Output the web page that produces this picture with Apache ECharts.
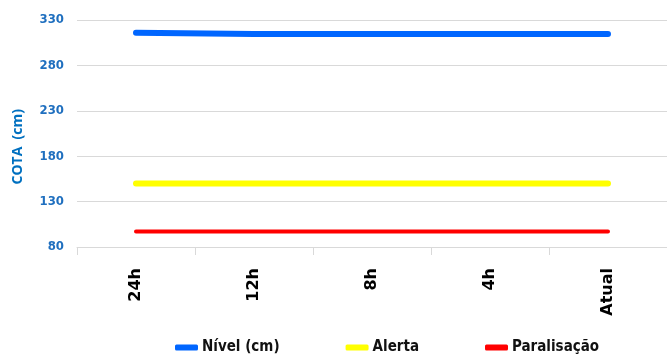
<!DOCTYPE html>
<html>
<head>
<meta charset="utf-8">
<script src="https://cdn.jsdelivr.net/npm/echarts@6/dist/echarts.min.js"></script>
<style>
html,body{margin:0;padding:0;background:#fff;}
#chart{width:667px;height:356px;}
</style>
</head>
<body>
<div id="chart"></div>
<script>
var categories = ['24h', '12h', '8h', '4h', 'Atual'];
var nivel = [316, 314.6, 314.6, 314.6, 314.6];
var alerta = [150, 150, 150, 150, 150];
var paralisacao = [97, 97, 97, 97, 97];
var yTicks = [80, 130, 180, 230, 280, 330];
var seriesNames = ['Nível (cm)', 'Alerta', 'Paralisação'];
var yTitle = 'COTA  (cm)';

var chart = echarts.init(document.getElementById('chart'), null, {renderer: 'canvas'});
var axisBlue = '#1F6FBF';
var narrow = '"DejaVu Sans Condensed", "Liberation Sans Narrow", sans-serif';
chart.setOption({
  animation: false,
  grid: {left: 77, right: 0, top: 20, bottom: 109, containLabel: false},
  graphic: [{
    type: 'text',
    left: 11,
    top: 109,
    rotation: Math.PI / 2,
    style: {
      text: yTitle,
      fill: '#0070C0',
      font: 'bold 14px "Open Sans", sans-serif'
    }
  }],
  legend: {
    top: 340,
    left: 175,
    itemGap: 66,
    itemWidth: 23,
    itemHeight: 6,
    padding: 0,
    data: [
      {name: seriesNames[0], icon: 'roundRect'},
      {name: seriesNames[1], icon: 'roundRect'},
      {name: seriesNames[2], icon: 'roundRect'}
    ],
    textStyle: {
      fontFamily: narrow,
      fontWeight: 'bold',
      fontSize: 15,
      color: '#111',
      padding: [0, 0, 0, -1]
    }
  },
  xAxis: {
    type: 'category',
    data: categories,
    boundaryGap: true,
    axisLine: {show: true, lineStyle: {color: '#D9D9D9', width: 1}},
    axisTick: {show: true, length: 8, lineStyle: {color: '#D9D9D9'}},
    axisLabel: {
      rotate: 90,
      margin: 21,
      color: '#000',
      fontFamily: '"DejaVu Sans", sans-serif',
      fontWeight: 'bold',
      fontSize: 16
    },
    splitLine: {show: false}
  },
  yAxis: {
    type: 'value',
    min: yTicks[0],
    max: yTicks[yTicks.length - 1],
    interval: yTicks[1] - yTicks[0],
    axisLine: {show: false},
    axisTick: {show: false},
    axisLabel: {
      margin: 13,
      color: axisBlue,
      fontFamily: narrow,
      fontWeight: 'bold',
      fontSize: 13
    },
    splitLine: {show: true, lineStyle: {color: '#D9D9D9', width: 1}}
  },
  series: [
    {
      name: seriesNames[0], type: 'line', data: nivel, symbol: 'none',
      itemStyle: {color: '#0066FF'},
      lineStyle: {color: '#0066FF', width: 6, cap: 'round'}
    },
    {
      name: seriesNames[1], type: 'line', data: alerta, symbol: 'none',
      itemStyle: {color: '#FFFF00'},
      lineStyle: {color: '#FFFF00', width: 6, cap: 'round'}
    },
    {
      name: seriesNames[2], type: 'line', data: paralisacao, symbol: 'none',
      itemStyle: {color: '#FF0000'},
      lineStyle: {color: '#FF0000', width: 4, cap: 'round'}
    }
  ]
});
</script>
</body>
</html>
